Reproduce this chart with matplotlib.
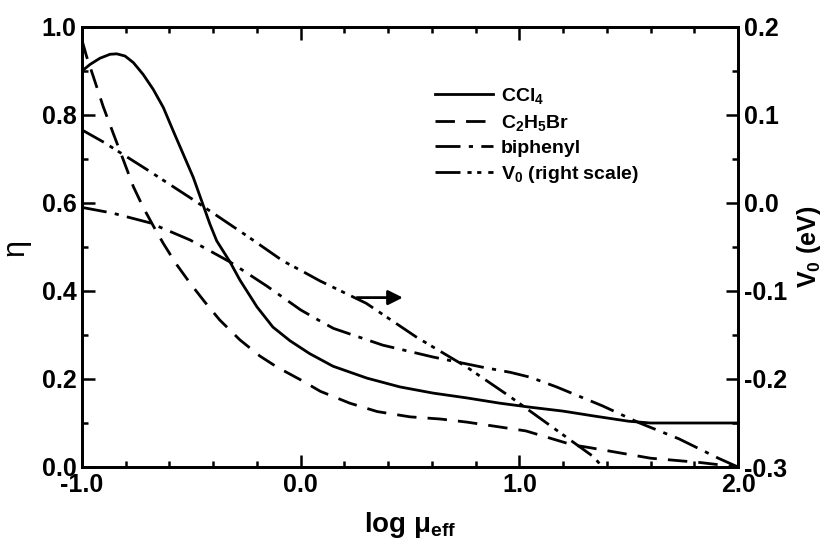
import matplotlib
matplotlib.use("Agg")
import matplotlib.pyplot as plt
from matplotlib.lines import Line2D
from matplotlib.ticker import MultipleLocator, FormatStrFormatter

plt.rcParams['font.family'] = ['Liberation Sans', 'DejaVu Sans']
plt.rcParams['font.weight'] = 'bold'
plt.rcParams['mathtext.fontset'] = 'custom'
plt.rcParams['mathtext.rm'] = 'Liberation Sans:bold'
plt.rcParams['mathtext.it'] = 'Liberation Sans:bold'
plt.rcParams['mathtext.bf'] = 'Liberation Sans:bold'

# --- data ---
ccl4_x = [-1.0, -0.963, -0.918, -0.872, -0.841, -0.803, -0.765, -0.720, -0.674, -0.628,
          -0.583, -0.537, -0.491, -0.453, -0.415, -0.384, -0.323, -0.278, -0.2, -0.127,
          -0.049, 0.04, 0.148, 0.303, 0.454, 0.605, 0.760, 0.911, 1.048, 1.2, 1.34,
          1.5, 1.6, 2.0]
ccl4_y = [0.90, 0.915, 0.929, 0.938, 0.939, 0.934, 0.919, 0.892, 0.858, 0.817,
          0.764, 0.711, 0.658, 0.605, 0.552, 0.514, 0.466, 0.425, 0.364, 0.318,
          0.287, 0.258, 0.229, 0.202, 0.182, 0.168, 0.157, 0.145, 0.136, 0.127, 0.116,
          0.104, 0.10, 0.10]

c2h5br_x = [-1.0, -0.979, -0.948, -0.903, -0.857, -0.811, -0.765, -0.720, -0.674, -0.628,
            -0.57, -0.506, -0.44, -0.37, -0.278, -0.186, -0.108, 0.0, 0.09, 0.225, 0.35,
            0.50, 0.64, 0.76, 0.91, 1.03, 1.245, 1.31, 1.6, 1.83, 2.0]
c2h5br_y = [0.97, 0.933, 0.887, 0.819, 0.758, 0.698, 0.637, 0.59, 0.548, 0.508,
            0.462, 0.418, 0.376, 0.334, 0.289, 0.252, 0.227, 0.198, 0.172, 0.145, 0.126,
            0.114, 0.109, 0.102, 0.091, 0.082, 0.05, 0.045, 0.02, 0.01, 0.0]

biph_x = [-1.0, -0.86, -0.69, -0.506, -0.323, -0.154, 0.0, 0.088, 0.15, 0.375, 0.605,
          0.83, 0.96, 1.05, 1.17, 1.38, 1.55, 1.73, 1.91, 2.0]
biph_y = [0.59, 0.577, 0.555, 0.516, 0.466, 0.411, 0.357, 0.332, 0.315, 0.277, 0.25,
          0.227, 0.215, 0.204, 0.182, 0.139, 0.10, 0.064, 0.02, 0.0]

v0_x = [-1.0, -0.90, -0.70, -0.49, -0.245, -0.08, 0.0, 0.088, 0.30, 0.53, 0.76,
        0.96, 1.15, 1.34, 1.38]
v0_y = [0.083, 0.069, 0.0375, 0.0035, -0.0375, -0.066, -0.0765, -0.0885, -0.114,
        -0.1525, -0.1865, -0.2205, -0.2545, -0.2885, -0.30]

labels = ['CCl$_4$', 'C$_2$H$_5$Br', 'biphenyl', 'V$_0$ (right scale)']
xticks = [-1.0, 0.0, 1.0, 2.0]

# --- figure ---
fig = plt.figure(figsize=(8.36, 5.54), dpi=100)
ax = fig.add_axes([82/836, 1 - 467/554, (738-82)/836, (467-27)/554])
ax2 = ax.twinx()

lw = 2.0
ls_ccl4 = '-'
ls_br = (0, (7, 4))
ls_bi = (0, (9, 3, 1.5, 3))
ls_v0 = (0, (9, 2.5, 1.5, 2, 1.5, 2.5))

ax.plot(ccl4_x, ccl4_y, color='black', lw=lw, linestyle=ls_ccl4)
ax.plot(c2h5br_x, c2h5br_y, color='black', lw=lw, linestyle=ls_br)
ax.plot(biph_x, biph_y, color='black', lw=lw, linestyle=ls_bi)
ax2.plot(v0_x, v0_y, color='black', lw=lw, linestyle=ls_v0)

ax.set_xlim(-1.0, 2.0)
ax.set_ylim(0.0, 1.0)
ax2.set_ylim(-0.3, 0.2)

ax.set_xticks(xticks)
ax.xaxis.set_major_formatter(FormatStrFormatter('%.1f'))
ax.xaxis.set_minor_locator(MultipleLocator(0.2))
ax.yaxis.set_major_locator(MultipleLocator(0.2))
ax.yaxis.set_minor_locator(MultipleLocator(0.1))
ax.yaxis.set_major_formatter(FormatStrFormatter('%.1f'))
ax2.yaxis.set_major_locator(MultipleLocator(0.1))
ax2.yaxis.set_minor_locator(MultipleLocator(0.05))
ax2.yaxis.set_major_formatter(FormatStrFormatter('%.1f'))

fs = 18
ax.tick_params(which='both', direction='in', top=True, width=1.8, labelsize=fs, pad=4)
ax.tick_params(which='major', length=9)
ax.tick_params(which='minor', length=4)
ax2.tick_params(which='both', direction='in', width=1.8, labelsize=fs, pad=4)
ax2.tick_params(which='major', length=9)
ax2.tick_params(which='minor', length=4)
for a in (ax, ax2):
    for s in a.spines.values():
        s.set_linewidth(2.0)
    for t in a.get_xticklabels() + a.get_yticklabels():
        t.set_fontweight('bold')

ax.set_xlabel(r'log μ$_{\mathrm{eff}}$', fontsize=20, fontweight='bold', labelpad=10)
ax.set_ylabel('η', fontsize=22, labelpad=8)
ax2.set_ylabel('V$_0$ (eV)', fontsize=18, fontweight='bold', labelpad=6)

# arrow pointing to right scale
ax.annotate('', xy=(0.48, 0.385), xytext=(0.245, 0.385),
            arrowprops=dict(arrowstyle='-|>', color='black', lw=2.0,
                            mutation_scale=22))

handles = [Line2D([], [], color='black', lw=lw, linestyle=ls_ccl4),
           Line2D([], [], color='black', lw=lw, linestyle=ls_br),
           Line2D([], [], color='black', lw=lw, linestyle=ls_bi),
           Line2D([], [], color='black', lw=lw, linestyle=ls_v0)]
leg = ax.legend(handles, labels, loc='upper left',
                bbox_to_anchor=(425/836, 1 - 76/554), bbox_transform=fig.transFigure,
                frameon=False, fontsize=14, handlelength=3.0, handletextpad=0.4,
                labelspacing=0.35, borderpad=0)
for t in leg.get_texts():
    t.set_fontweight('bold')

fig.savefig('out.png', dpi=100)
